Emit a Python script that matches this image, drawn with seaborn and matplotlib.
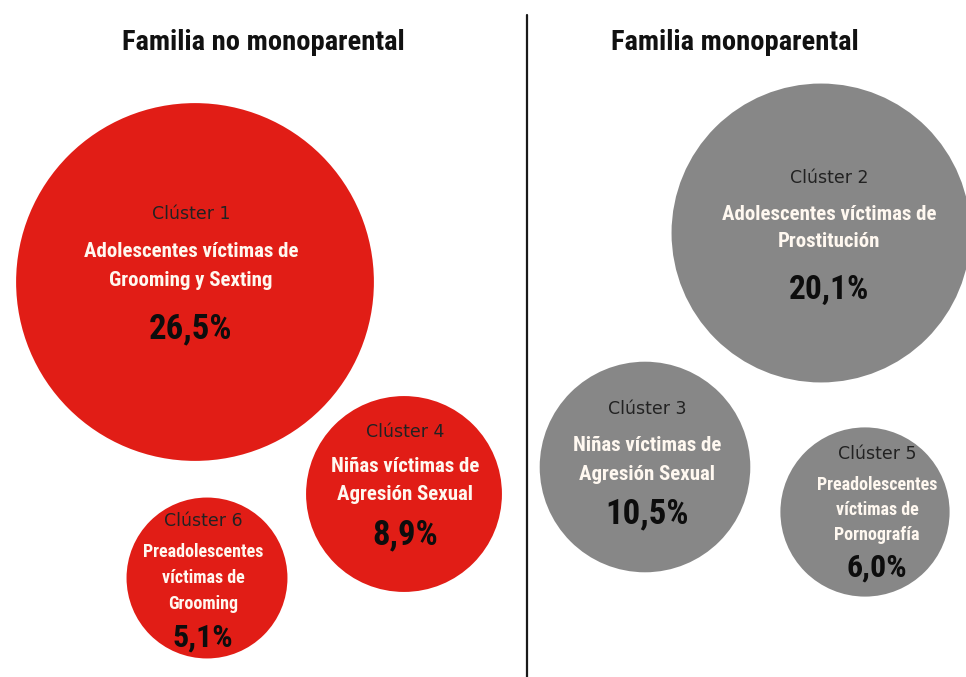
import matplotlib
matplotlib.use("Agg")
import matplotlib.pyplot as plt
from matplotlib import font_manager as fm
import seaborn as sns
import pandas as pd

# ---- data -------------------------------------------------------------
clusters = ["Clúster 1", "Clúster 4", "Clúster 6", "Clúster 2", "Clúster 3", "Clúster 5"]
groups = ["Familia no monoparental"] * 3 + ["Familia monoparental"] * 3
descriptions = [
    "Adolescentes víctimas de\nGrooming y Sexting",
    "Niñas víctimas de\nAgresión Sexual",
    "Preadolescentes\nvíctimas de\nGrooming",
    "Adolescentes víctimas de\nProstitución",
    "Niñas víctimas de\nAgresión Sexual",
    "Preadolescentes\nvíctimas de\nPornografía",
]
percentages = [26.5, 8.9, 5.1, 20.1, 10.5, 6.0]
panel_titles = ["Familia no monoparental", "Familia monoparental"]

# ---- layout (canvas pixels, y grows downward) ---------------------------
W, H, DPI = 966, 677, 100
bubble_x = [195, 404, 207, 821, 645, 865]
bubble_y = [282, 494, 578, 233, 467, 512]
text_x = [191, 405, 203, 829, 647, 877]
label_y = [214, 432, 521, 178, 409, 454]
desc_y = [266, 481, 578, 228, 460, 510]
pct_y = [329, 535, 638, 290, 514, 568]
desc_size = [15, 15, 13, 15, 15, 13]
pct_size = [25, 25, 23, 24, 25, 23]
desc_spacing = [1.62, 1.6, 1.6, 1.55, 1.65, 1.5]
title_x = [263, 735]
title_y = 42
divider_x = 527

RED = "#E11D16"
GREY = "#878787"
palette = {"Familia no monoparental": RED, "Familia monoparental": GREY}

# pick a narrow bold face for the headings and figures
installed = {f.name for f in fm.fontManager.ttflist}
narrow_candidates = ["Roboto Condensed", "Liberation Sans Narrow", "Noto Sans Condensed",
                     "Open Sans Condensed", "DejaVu Sans Condensed", "Noto Sans SemiCondensed"]
narrow = next((n for n in narrow_candidates if n in installed), None)
narrow_stretch = "normal"
if narrow is None:
    for fam in ["Noto Sans", "DejaVu Sans", "Open Sans", "Roboto"]:
        if any(f.name == fam and str(f.stretch) in ("condensed", "semi-condensed", "extra-condensed")
               for f in fm.fontManager.ttflist):
            narrow, narrow_stretch = fam, "condensed"
            break
if narrow is None:
    narrow = "Roboto"
NARROW = dict(family=[narrow, "DejaVu Sans"], fontstretch=narrow_stretch, fontweight="bold")


def radius_px(v):
    # bubble radius grows with the cluster share
    return 57 + 4.6 * v


def marker_area(v):
    diameter_pt = 2 * radius_px(v) * 72 / DPI
    return diameter_pt ** 2


df = pd.DataFrame({
    "cluster": clusters,
    "grupo": groups,
    "pct": percentages,
    "x": bubble_x,
    "y": bubble_y,
})

sns.set_theme(style="white")
plt.rcParams["font.family"] = ["DejaVu Sans"]

fig = plt.figure(figsize=(W / DPI, H / DPI), dpi=DPI)
ax = fig.add_axes([0, 0, 1, 1])

sns.scatterplot(
    data=df, x="x", y="y", hue="grupo", palette=palette,
    size="pct", sizes={v: marker_area(v) for v in percentages},
    linewidth=0, alpha=1, legend=False, ax=ax, zorder=2,
)

ax.set_xlim(0, W)
ax.set_ylim(H, 0)
ax.set_axis_off()

# divider between the two panels
ax.plot([divider_x, divider_x], [15, H], color="#1a1a1a", lw=1.6, zorder=1)

for t, tx in zip(panel_titles, title_x):
    ax.text(tx, title_y, t, ha="center", va="center", fontsize=20.5,
            color="#111111", **NARROW)

for i in range(len(clusters)):
    ax.text(text_x[i], label_y[i], clusters[i], ha="center", va="center",
            fontsize=12.5, family=["DejaVu Sans"], fontweight="normal",
            color="#222222", zorder=3)
    ax.text(text_x[i], desc_y[i], descriptions[i], ha="center", va="center",
            fontsize=desc_size[i], color="#FFF8F0",
            linespacing=desc_spacing[i], zorder=3, **NARROW)
    ax.text(text_x[i], pct_y[i], f"{percentages[i]:.1f}%".replace(".", ","),
            ha="center", va="center", fontsize=pct_size[i],
            color="#0d0d0d", zorder=3, **NARROW)

fig.savefig("out.png", dpi=DPI, facecolor="white")
